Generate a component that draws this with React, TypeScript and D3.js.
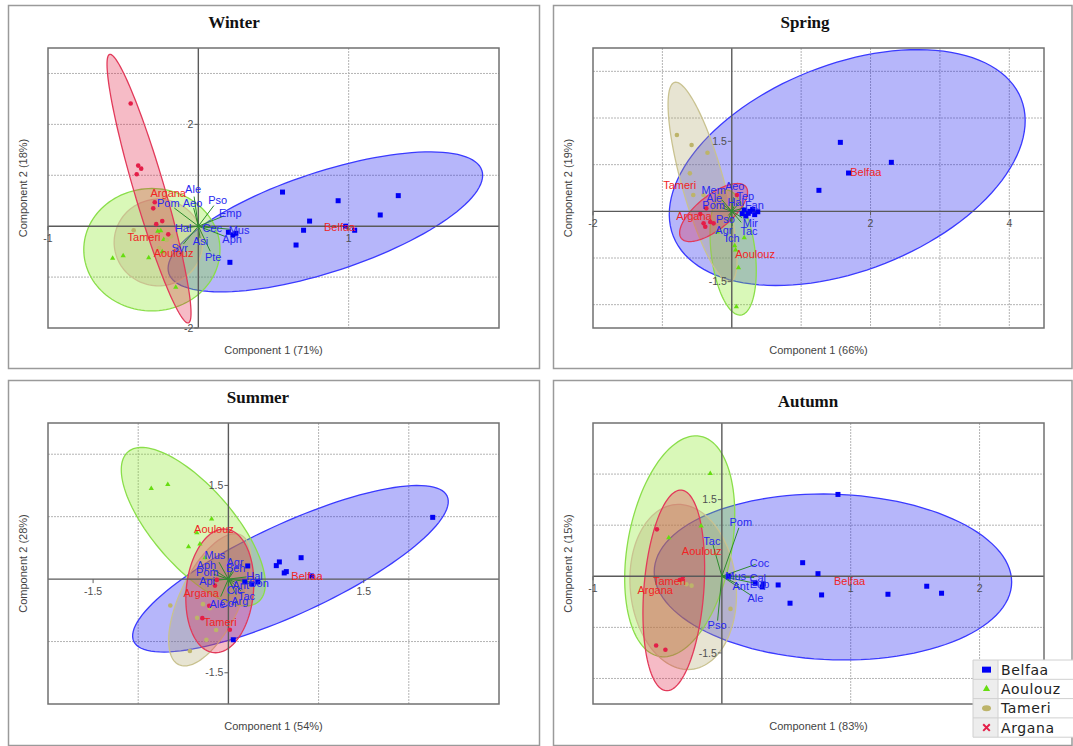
import React, { useRef, useEffect } from 'react';
import * as d3 from 'd3';

type Pt = [number, number];
// ellipse: centre x, centre y, first semi-axis (dx, dy), second semi-axis (dx, dy) in data units
type Ell = [number, number, number, number, number, number];
type Lbl = [string, number, number];

const groupNames = ['Belfaa', 'Aoulouz', 'Tameri', 'Argana'];

// ---------- Winter ----------
const winterBelfaa: Pt[] = [[0.56, 0.67], [1.33, 0.6], [0.93, 0.5], [1.21, 0.22], [0.74, 0.1], [0.7, -0.08], [1.04, -0.08], [0.98, 0.0], [0.65, -0.37], [0.21, -0.71], [0.2, -0.12], [0.25, -0.14], [0.23, -0.17]];
const winterAoulouz: Pt[] = [[-0.57, -0.63], [-0.5, -0.58], [-0.33, -0.62], [-0.27, -0.1], [-0.25, -0.09], [-0.23, -0.26], [-0.15, -1.2], [-0.24, -0.5]];
const winterTameri: Pt[] = [[-0.43, -0.08], [-0.21, -0.27], [-0.26, -0.43], [-0.18, -0.2]];
const winterArgana: Pt[] = [[-0.45, 2.41], [-0.4, 1.19], [-0.38, 1.13], [-0.41, 1.02], [-0.29, 0.47], [-0.3, 0.35], [-0.24, 0.1], [-0.28, 0.04], [-0.2, -0.16]];
const winterEllipses: Ell[] = [
  [0.845, 0.084, 1.041, 1.012, 0.104, -0.931],
  [-0.309, -0.462, 0.453, 0, 0, 1.202],
  [-0.265, -0.32, 0.295, 0, 0, 0.851],
  [-0.328, 0.737, -0.262, 2.637, 0.097, 0.084],
];
const winterGroupLabels: Lbl[] = [['Belfaa', 0.94, -0.014], ['Aoulouz', -0.165, -0.536], ['Tameri', -0.361, -0.222], ['Argana', -0.2, 0.642]];
const winterVars: Lbl[] = [
  ['Ale', -0.035, 0.727], ['Pso', 0.129, 0.505], ['Emp', 0.213, 0.25], ['Pom', -0.2, 0.446], ['Aeo', -0.039, 0.446],
  ['Hal', -0.101, -0.039], ['Cec', 0.092, -0.033], ['Mus', 0.271, -0.079],
  ['Aph', 0.225, -0.255], ['Asi', 0.014, -0.289], ['Syr', -0.124, -0.438], ['Pte', 0.099, -0.615],
];
const winterXTicks = [-1, 1];
const winterYTicks = [2, -2];

// ---------- Spring ----------
const springBelfaa: Pt[] = [[1.565, 1.478], [2.3, 1.05], [1.683, 0.821], [1.256, 0.45], [0.18, 0.028], [0.238, -0.043], [0.301, 0.043], [0.375, -0.009], [0.203, -0.1], [0.26, 0.0], [0.33, -0.07], [0.15, -0.05]];
const springAoulouz: Pt[] = [[0.18, -0.566], [0.042, -0.737], [0.056, -0.829], [0.097, -1.208], [0.066, -2.044], [-0.209, -0.444]];
const springTameri: Pt[] = [[-0.791, 1.635], [-0.579, 1.421], [-0.35, 1.256], [-0.604, 0.814], [-0.555, 0.349], [-0.408, 0.349]];
const springArgana: Pt[] = [[-0.367, 0.064], [-0.406, -0.257], [-0.382, -0.33], [-0.31, -0.229], [-0.262, -0.257], [0.075, 0.349], [-0.454, -0.058]];
const springEllipses: Ell[] = [
  [1.664, 0.938, 2.506, 1.474, 0.546, -2.053],
  [0.02, -0.883, -0.111, 1.339, 0.314, 0.058],
  [-0.421, 0.628, -0.403, 2.136, 0.291, 0.122],
  [-0.262, -0.026, 0.465, 0.553, 0.153, -0.285],
];
const springGroupLabels: Lbl[] = [['Belfaa', 1.932, 0.849], ['Aoulouz', 0.336, -0.915], ['Tameri', -0.751, 0.557], ['Argana', -0.546, -0.1]];
const springVars: Lbl[] = [
  ['Mem', -0.261, 0.456], ['Aeo', 0.042, 0.549], ['Ale', -0.252, 0.285], ['Tep', 0.195, 0.328], ['Pom', -0.261, 0.135],
  ['Hal', 0.056, 0.193], ['Fan', 0.326, 0.135],
  ['Pso', -0.091, -0.159], ['Mir', 0.268, -0.244], ['Agr', -0.114, -0.401], ['Tac', 0.248, -0.429], ['Ich', 0.007, -0.572],
];
const springXTicks = [-2, 2, 4];
const springYTicks = [1.5, -1.5];

// ---------- Summer ----------
const summerBelfaa: Pt[] = [[2.265, 0.989], [0.806, 0.343], [0.565, 0.275], [0.531, 0.216], [0.619, 0.099], [0.642, 0.12], [0.92, 0.051], [0.214, 0.211], [0.054, -0.971], [0.182, -0.045], [0.259, -0.077], [0.326, -0.045]];
const summerAoulouz: Pt[] = [[-0.855, 1.452], [-0.672, 1.516], [-0.186, 0.962], [-0.35, 0.743], [-0.442, 0.519], [-0.316, 0.562], [-0.259, 0.343]];
const summerTameri: Pt[] = [[-0.644, -0.423], [-0.282, -0.401], [-0.205, -0.465], [-0.347, -0.62], [-0.136, -0.816], [-0.244, -0.971], [-0.427, -1.152]];
const summerArgana: Pt[] = [[-0.149, -0.104], [-0.213, -0.428], [-0.289, -0.625], [0.016, -0.812], [-0.129, -0.013]];
const summerEllipses: Ell[] = [
  [0.688, 0.166, 1.737, 1.163, 0.211, -0.653],
  [-0.389, 0.839, -0.725, 1.198, 0.335, 0.42],
  [-0.206, -0.332, 0.344, 1.038, 0.3, -0.206],
  [-0.095, -0.188, 0.067, 0.99, 0.371, -0.051],
];
const summerGroupLabels: Lbl[] = [['Belfaa', 0.871, 0.051], ['Aoulouz', -0.16, 0.797], ['Tameri', -0.091, -0.689], ['Argana', -0.302, -0.225]];
const summerVars: Lbl[] = [
  ['Mus', -0.149, 0.387], ['Aph', -0.244, 0.227], ['Agr', 0.073, 0.264], ['Beh', 0.081, 0.174], ['Pom', -0.233, 0.11],
  ['Hal', 0.29, 0.051], ['Api', -0.236, -0.029], ['Ant', 0.137, -0.093], ['Bon', 0.34, -0.066], ['Cic', 0.069, -0.173],
  ['Tac', 0.2, -0.268], ['Arg', 0.126, -0.359], ['Ale', -0.122, -0.401], ['Cor', 0.004, -0.385],
];
const summerXTicks = [-1.5, 1.5];
const summerYTicks = [1.5, -1.5];

// ---------- Autumn ----------
const autumnBelfaa: Pt[] = [[0.901, 1.602], [0.627, 0.266], [0.746, 0.051], [0.437, -0.17], [0.529, -0.527], [0.774, -0.365], [1.289, -0.352], [1.59, -0.195], [1.705, -0.332], [0.259, -0.137], [0.321, -0.15], [0.313, -0.209], [0.05, 0.0]];
const autumnAoulouz: Pt[] = [[-0.09, 2.012], [-0.161, 0.982], [-0.412, 0.754]];
const autumnTameri: Pt[] = [[-0.235, -0.184], [-0.275, -0.156], [0.067, -0.639], [-0.32, -0.12]];
const autumnArgana: Pt[] = [[-0.504, 0.918], [-0.327, -0.072], [-0.306, -0.053], [-0.51, -1.355], [-0.438, -1.439]];
const autumnEllipses: Ell[] = [
  [0.862, -0.014, 1.387, -0.098, 0, 1.621],
  [-0.327, 0.586, 0.16, 2.154, 0.396, -0.188],
  [-0.3, -0.209, -0.062, 1.613, 0.409, 0.098],
  [-0.373, -0.277, 0.059, 1.963, 0.232, -0.045],
];
const autumnGroupLabels: Lbl[] = [['Belfaa', 0.991, -0.086], ['Aoulouz', -0.156, 0.494], ['Tameri', -0.407, -0.092], ['Argana', -0.517, -0.281]];
const autumnVars: Lbl[] = [
  ['Pom', 0.147, 1.055], ['Tac', -0.077, 0.689], ['Coc', 0.292, 0.26], ['Mus', 0.107, 0.0], ['Cal', 0.279, -0.027],
  ['Ant', 0.147, -0.184], ['Eup', 0.292, -0.156], ['Ale', 0.261, -0.43], ['Pso', -0.037, -0.965],
];
const autumnXTicks = [-1, 1, 2];
const autumnYTicks = [1.5, -1.5];

const styles: Record<string, { pt: string; fill: string; stroke: string }> = {
  Belfaa: { pt: '#0000f5', fill: 'rgba(20,20,240,0.31)', stroke: '#3a3aff' },
  Aoulouz: { pt: '#66dd10', fill: 'rgba(130,232,20,0.30)', stroke: '#8ade4a' },
  Tameri: { pt: '#bdb46a', fill: 'rgba(175,165,105,0.30)', stroke: '#c9c290' },
  Argana: { pt: '#e41e48', fill: 'rgba(225,30,65,0.30)', stroke: '#e23a5a' },
};

const panels = [
  {
    title: 'Winter', titleX: 234, titleY: 28, frame: [8.5, 5.5, 531, 363], plot: [48, 48, 499, 328],
    xDomain: [-1, 2], yDomain: [-2, 3.5], xLabel: 'Component 1 (71%)', yLabel: 'Component 2 (18%)',
    points: [winterBelfaa, winterAoulouz, winterTameri, winterArgana], ellipses: winterEllipses,
    groupLabels: winterGroupLabels, vars: winterVars, k: 0.8, xTicks: winterXTicks, yTicks: winterYTicks,
  },
  {
    title: 'Spring', titleX: 805, titleY: 28, frame: [553.5, 5.5, 518.5, 363], plot: [593, 48, 1044, 328],
    xDomain: [-2, 4.5], yDomain: [-2.5, 3.5], xLabel: 'Component 1 (66%)', yLabel: 'Component 2 (19%)',
    points: [springBelfaa, springAoulouz, springTameri, springArgana], ellipses: springEllipses,
    groupLabels: springGroupLabels, vars: springVars, k: 0.55, xTicks: springXTicks, yTicks: springYTicks,
  },
  {
    title: 'Summer', titleX: 258, titleY: 403, frame: [8.5, 380.5, 531, 365], plot: [48, 423, 499, 704],
    xDomain: [-2, 3], yDomain: [-2, 2.5], xLabel: 'Component 1 (54%)', yLabel: 'Component 2 (28%)',
    points: [summerBelfaa, summerAoulouz, summerTameri, summerArgana], ellipses: summerEllipses,
    groupLabels: summerGroupLabels, vars: summerVars, k: 0.7, xTicks: summerXTicks, yTicks: summerYTicks,
  },
  {
    title: 'Autumn', titleX: 808, titleY: 407, frame: [553.5, 380.5, 518.5, 365], plot: [593, 423, 1044, 704],
    xDomain: [-1, 2.5], yDomain: [-2.5, 3], xLabel: 'Component 1 (83%)', yLabel: 'Component 2 (15%)',
    points: [autumnBelfaa, autumnAoulouz, autumnTameri, autumnArgana], ellipses: autumnEllipses,
    groupLabels: autumnGroupLabels, vars: autumnVars, k: 0.9, xTicks: autumnXTicks, yTicks: autumnYTicks,
  },
];

const sans = "'Liberation Sans', Arial, sans-serif";

function App() {
  const svgRef = useRef<SVGSVGElement>(null);

  useEffect(() => {
    const svg = d3.select(svgRef.current);
    svg.selectAll('*').remove();

    panels.forEach((p, pi) => {
      const g = svg.append('g');
      const [l, t, r, b] = p.plot;
      const x = d3.scaleLinear().domain(p.xDomain).range([l, r]);
      const y = d3.scaleLinear().domain(p.yDomain).range([b, t]);

      g.append('rect')
        .attr('x', p.frame[0]).attr('y', p.frame[1]).attr('width', p.frame[2]).attr('height', p.frame[3])
        .attr('fill', 'white').attr('stroke', '#9a9a9a').attr('stroke-width', 1.5);

      const clipId = 'clip' + pi;
      g.append('clipPath').attr('id', clipId)
        .append('rect').attr('x', l).attr('y', t).attr('width', r - l).attr('height', b - t);

      // dotted grid on whole units
      const gx = d3.range(Math.ceil(p.xDomain[0]), Math.floor(p.xDomain[1]) + 1).filter(v => v !== 0 && v > p.xDomain[0] && v < p.xDomain[1]);
      const gy = d3.range(Math.ceil(p.yDomain[0]), Math.floor(p.yDomain[1]) + 1).filter(v => v !== 0 && v > p.yDomain[0] && v < p.yDomain[1]);
      const grid = g.append('g').attr('stroke', '#b4b4b4').attr('stroke-width', 1).attr('stroke-dasharray', '2,1');
      grid.selectAll('.gx').data(gx).enter().append('line')
        .attr('x1', d => x(d)).attr('x2', d => x(d)).attr('y1', t).attr('y2', b);
      grid.selectAll('.gy').data(gy).enter().append('line')
        .attr('y1', d => y(d)).attr('y2', d => y(d)).attr('x1', l).attr('x2', r);

      const inner = g.append('g').attr('clip-path', `url(#${clipId})`);

      // 95% ellipses
      const line = d3.line().curve(d3.curveLinearClosed);
      p.ellipses.forEach((e, gi) => {
        const st = styles[groupNames[gi]];
        const pts = d3.range(0, 120).map(i => {
          const a = (i / 120) * Math.PI * 2;
          return [x(e[0] + Math.cos(a) * e[2] + Math.sin(a) * e[4]), y(e[1] + Math.cos(a) * e[3] + Math.sin(a) * e[5])] as [number, number];
        });
        inner.append('path').attr('d', line(pts)).attr('fill', st.fill).attr('stroke', st.stroke).attr('stroke-width', 1.3);
      });

      // zero axes
      inner.append('line').attr('x1', l).attr('x2', r).attr('y1', y(0)).attr('y2', y(0)).attr('stroke', '#5a5a5a').attr('stroke-width', 1.4);
      inner.append('line').attr('x1', x(0)).attr('x2', x(0)).attr('y1', t).attr('y2', b).attr('stroke', '#5a5a5a').attr('stroke-width', 1.4);

      // loading lines
      inner.append('g').attr('stroke', '#2e8b2e').attr('stroke-width', 1)
        .selectAll('line').data(p.vars).enter().append('line')
        .attr('x1', x(0)).attr('y1', y(0))
        .attr('x2', d => x(d[1] * p.k)).attr('y2', d => y(d[2] * p.k));

      // points
      p.points.forEach((pts, gi) => {
        const name = groupNames[gi];
        const col = styles[name].pt;
        const pg = inner.append('g').attr('fill', col);
        if (name === 'Belfaa') {
          pg.selectAll('rect').data(pts).enter().append('rect')
            .attr('x', d => x(d[0]) - 2.5).attr('y', d => y(d[1]) - 2.5).attr('width', 5).attr('height', 5);
        } else if (name === 'Aoulouz') {
          pg.selectAll('path').data(pts).enter().append('path')
            .attr('d', d3.symbol(d3.symbolTriangle, 12) as any)
            .attr('transform', d => `translate(${x(d[0])},${y(d[1])})`);
        } else {
          pg.selectAll('circle').data(pts).enter().append('circle')
            .attr('cx', d => x(d[0])).attr('cy', d => y(d[1])).attr('r', 2.3);
        }
      });

      // variable labels
      inner.append('g').attr('fill', '#2828f0').style('font', `11px ${sans}`).attr('text-anchor', 'middle')
        .selectAll('text').data(p.vars).enter().append('text')
        .attr('x', d => x(d[1])).attr('y', d => y(d[2])).attr('dy', '0.35em').text(d => d[0]);

      // group labels
      inner.append('g').attr('fill', '#f02424').style('font', `11px ${sans}`).attr('text-anchor', 'middle')
        .selectAll('text').data(p.groupLabels).enter().append('text')
        .attr('x', d => x(d[1])).attr('y', d => y(d[2])).attr('dy', '0.35em').text(d => d[0]);

      // plot border
      g.append('rect').attr('x', l).attr('y', t).attr('width', r - l).attr('height', b - t)
        .attr('fill', 'none').attr('stroke', '#707070').attr('stroke-width', 1.5);

      // tick labels along the zero axes
      const tk = g.append('g').style('font', `10.5px ${sans}`).attr('fill', '#505050');
      p.xTicks.forEach(v => {
        tk.append('line').attr('x1', x(v)).attr('x2', x(v)).attr('y1', y(0)).attr('y2', y(0) + 4).attr('stroke', '#606060');
        tk.append('text').attr('x', x(v)).attr('y', y(0) + 16).attr('text-anchor', 'middle').text(String(v));
      });
      p.yTicks.forEach(v => {
        tk.append('line').attr('x1', x(0) - 4).attr('x2', x(0)).attr('y1', y(v)).attr('y2', y(v)).attr('stroke', '#606060');
        tk.append('text').attr('x', x(0) - 5).attr('y', y(v)).attr('dy', '0.35em').attr('text-anchor', 'end').text(String(v));
      });

      // axis titles
      g.append('text').attr('x', (l + r) / 2).attr('y', b + 26).attr('text-anchor', 'middle')
        .style('font', `11px ${sans}`).attr('fill', '#444').text(p.xLabel);
      g.append('text').attr('transform', `translate(${l - 25},${(t + b) / 2}) rotate(-90)`)
        .attr('text-anchor', 'middle').attr('dy', '0.35em')
        .style('font', `11px ${sans}`).attr('fill', '#444').text(p.yLabel);

      g.append('text').attr('x', p.titleX).attr('y', p.titleY).attr('text-anchor', 'middle')
        .style('font', "bold 17px 'Liberation Serif', 'Times New Roman', serif").attr('fill', '#111').text(p.title);
    });

    // legend
    const lg = svg.append('g');
    const lx = 973, ly = 660, rowH = 19.3;
    lg.append('rect').attr('x', lx).attr('y', ly).attr('width', 100).attr('height', rowH * 4).attr('fill', 'white');
    lg.append('rect').attr('x', lx).attr('y', ly).attr('width', 25).attr('height', rowH * 4).attr('fill', '#ededed');
    groupNames.forEach((name, i) => {
      const cy = ly + rowH * i + rowH / 2;
      const col = styles[name].pt;
      lg.append('line').attr('x1', lx).attr('x2', 1073).attr('y1', ly + rowH * (i + 1)).attr('y2', ly + rowH * (i + 1))
        .attr('stroke', '#d0d0d0');
      if (name === 'Belfaa') {
        lg.append('rect').attr('x', lx + 9).attr('y', cy - 3).attr('width', 9).attr('height', 6).attr('fill', col);
      } else if (name === 'Aoulouz') {
        lg.append('path').attr('d', d3.symbol(d3.symbolTriangle, 22)()).attr('transform', `translate(${lx + 13.5},${cy})`).attr('fill', col);
      } else if (name === 'Tameri') {
        lg.append('ellipse').attr('cx', lx + 13.5).attr('cy', cy).attr('rx', 4.5).attr('ry', 3).attr('fill', col);
      } else {
        lg.append('path').attr('d', d3.symbol(d3.symbolX, 30)()).attr('transform', `translate(${lx + 13.5},${cy})`)
          .attr('stroke', col).attr('stroke-width', 2).attr('fill', col);
      }
      lg.append('text').attr('x', lx + 28).attr('y', cy).attr('dy', '0.36em')
        .style('font', "14px 'DejaVu Sans', Verdana, sans-serif").style('letter-spacing', '0.6px')
        .attr('fill', '#222').text(name);
    });
    lg.append('line').attr('x1', lx + 25).attr('x2', lx + 25).attr('y1', ly).attr('y2', ly + rowH * 4).attr('stroke', '#d0d0d0');
    lg.append('line').attr('x1', lx).attr('x2', lx).attr('y1', ly).attr('y2', ly + rowH * 4).attr('stroke', '#d0d0d0');
    lg.append('line').attr('x1', lx).attr('x2', 1073).attr('y1', ly).attr('y2', ly).attr('stroke', '#d0d0d0');
  }, []);

  return (
    <svg ref={svgRef} width={1073} height={746}
      style={{ position: 'absolute', left: 0, top: 0, background: 'white' }} />
  );
}

export default App;
